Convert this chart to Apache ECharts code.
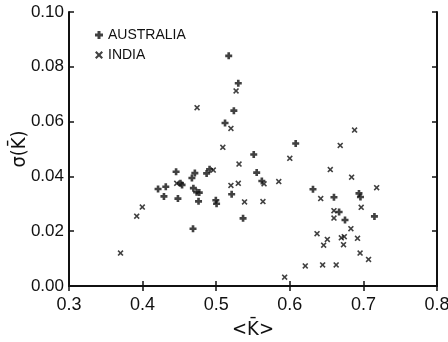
<!DOCTYPE html>
<html>
<head>
<meta charset="utf-8">
<script src="https://cdn.jsdelivr.net/npm/echarts@6/dist/echarts.min.js"></script>
<style>
  html, body { margin: 0; padding: 0; background: #fff; }
  #chart { width: 448px; height: 342px; }
</style>
</head>
<body>
<div id="chart"></div>
<script>
// values: <K> (x) and sigma(K) (y)
const ausK = [0.517, 0.530, 0.524, 0.512, 0.608, 0.551, 0.4455, 0.471, 0.467, 0.487, 0.491, 0.555,
  0.562, 0.521, 0.4995, 0.5005, 0.5365, 0.4685, 0.421, 0.4315, 0.4514, 0.4536, 0.429, 0.448,
  0.469, 0.4734, 0.477, 0.476, 0.6315, 0.660, 0.694, 0.696, 0.667, 0.675, 0.715]
const ausSigma = [0.084, 0.074, 0.064, 0.0595, 0.052, 0.048, 0.0417, 0.0412, 0.0394, 0.0411, 0.0426, 0.0414,
  0.0383, 0.0335, 0.0313, 0.0300, 0.0247, 0.0209, 0.0354, 0.0362, 0.0375, 0.0369, 0.0327, 0.0319,
  0.0357, 0.0342, 0.0341, 0.0309, 0.0353, 0.0324, 0.0338, 0.0325, 0.0270, 0.0241, 0.0254]

const indK = [0.527, 0.474, 0.520, 0.509, 0.600, 0.531, 0.496, 0.565, 0.585, 0.530, 0.520, 0.5385,
  0.5635, 0.4464, 0.3996, 0.392, 0.370, 0.688, 0.6685, 0.655, 0.684, 0.718, 0.642, 0.697,
  0.660, 0.660, 0.683, 0.637, 0.651, 0.646, 0.670, 0.674, 0.673, 0.692, 0.6955, 0.707,
  0.621, 0.6446, 0.663, 0.593]
const indSigma = [0.0712, 0.0651, 0.0575, 0.0506, 0.0466, 0.0445, 0.0423, 0.0373, 0.0381, 0.0375, 0.0367, 0.0307,
  0.0308, 0.0375, 0.0288, 0.0255, 0.0120, 0.0569, 0.0513, 0.0425, 0.0397, 0.0359, 0.0319, 0.0287,
  0.0275, 0.0248, 0.0209, 0.0191, 0.0170, 0.0149, 0.0176, 0.0180, 0.0151, 0.0174, 0.0120, 0.0097,
  0.0073, 0.0077, 0.0077, 0.0032]

const seriesNames = ['AUSTRALIA', 'INDIA']

// filled "+" and "x" outlines so the marks look like the scanned ones
const plusPath = 'path://M2.5,0H5.5V2.5H8V5.5H5.5V8H2.5V5.5H0V2.5H2.5Z'
const crossPath = 'path://M0,1.5L1.5,0L4,2.5L6.5,0L8,1.5L5.5,4L8,6.5L6.5,8L4,5.5L1.5,8L0,6.5L2.5,4Z'

const ink = '#111'
const font = '"Liberation Sans", Arial, sans-serif'
const nameFont = '"DejaVu Sans Condensed", "DejaVu Sans", sans-serif'

const chart = echarts.init(document.getElementById('chart'))

const frameAxis = (pos) => ({
  position: pos,
  axisLine: { show: true, lineStyle: { color: ink, width: 2 } },
  axisTick: { show: true, inside: true, length: 5, lineStyle: { color: ink, width: 1.5 } },
  splitLine: { show: false }
})

chart.setOption({
  backgroundColor: '#fff',
  animation: false,
  grid: { left: 69, right: 11, top: 12, bottom: 56, outerBoundsMode: 'none', containLabel: false },
  legend: {
    orient: 'vertical',
    left: 90,
    top: 23,
    itemGap: 6,
    itemWidth: 8,
    itemHeight: 8,
    textStyle: { color: ink, fontSize: 14, fontFamily: font },
    data: [
      { name: seriesNames[0], icon: plusPath },
      { name: seriesNames[1], icon: crossPath }
    ]
  },
  xAxis: [
    {
      type: 'value', min: 0.3, max: 0.8, interval: 0.1,
      ...frameAxis('bottom'),
      axisLabel: { color: ink, fontSize: 18, fontFamily: font, margin: 10, formatter: v => v.toFixed(1) },
      name: '<K\u0304>',
      nameLocation: 'middle',
      nameGap: 34,
      nameMoveOverlap: false,
      nameTextStyle: { color: ink, fontSize: 20, fontFamily: nameFont }
    },
    {
      type: 'value', min: 0.3, max: 0.8, interval: 0.1,
      ...frameAxis('top'),
      axisLabel: { show: false }
    }
  ],
  yAxis: [
    {
      type: 'value', min: 0, max: 0.1, interval: 0.02,
      ...frameAxis('left'),
      axisLabel: { color: ink, fontSize: 17, fontFamily: font, margin: 5, formatter: v => v.toFixed(2) },
      name: '\u03c3(K\u0304)',
      nameLocation: 'middle',
      nameGap: 36,
      nameMoveOverlap: false,
      nameTextStyle: { color: ink, fontSize: 20, fontFamily: nameFont, lineHeight: 26 }
    },
    {
      type: 'value', min: 0, max: 0.1, interval: 0.02,
      ...frameAxis('right'),
      axisLabel: { show: false }
    }
  ],
  series: [
    {
      name: seriesNames[0],
      type: 'scatter',
      symbol: plusPath,
      symbolSize: 7,
      itemStyle: { color: ink },
      data: ausK.map((k, i) => [k, ausSigma[i]])
    },
    {
      name: seriesNames[1],
      type: 'scatter',
      symbol: crossPath,
      symbolSize: 6,
      itemStyle: { color: ink },
      data: indK.map((k, i) => [k, indSigma[i]])
    }
  ]
})
</script>
</body>
</html>
